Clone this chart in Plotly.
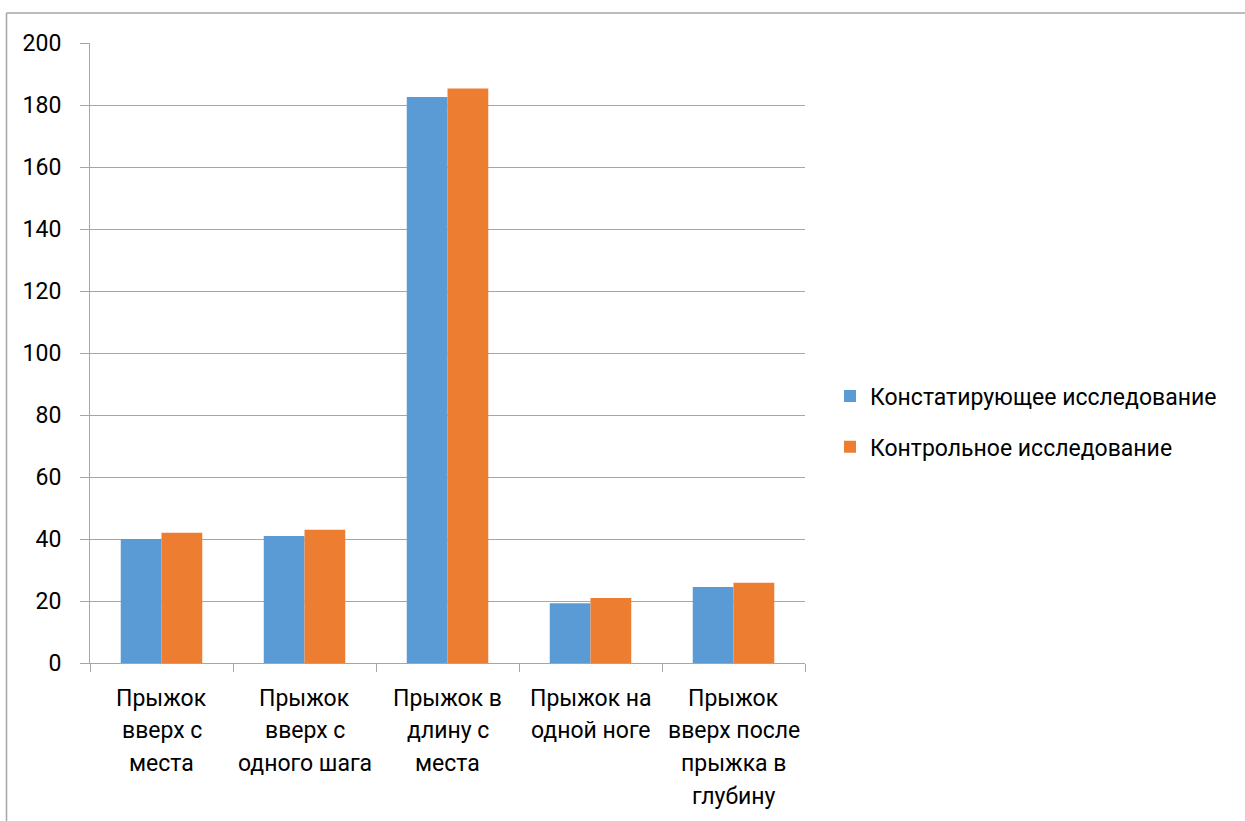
import plotly.graph_objects as go

categories = [
    "Прыжок<br>вверх с<br>места",
    "Прыжок<br>вверх с<br>одного шага",
    "Прыжок в<br>длину с<br>места",
    "Прыжок на<br>одной ноге",
    "Прыжок<br>вверх после<br>прыжка в<br>глубину",
]
series_names = ["Констатирующее исследование", "Контрольное исследование"]
ascertaining = [40, 41, 182.6, 19.3, 24.5]
control = [42, 43, 185.3, 21, 25.9]
y_ticks = [0, 20, 40, 60, 80, 100, 120, 140, 160, 180, 200]

colors = ["#5B9BD5", "#ED7D31"]
FONT = "Roboto"
FS = 23
W, H = 1245, 821
L, R, T, B = 90, 440, 43, 158
pw, ph = W - L - R, H - T - B

fig = go.Figure()
for i, (name, vals) in enumerate(zip(series_names, [ascertaining, control])):
    fig.add_trace(go.Bar(
        x=categories, y=vals, name=name, legendgroup=str(i),
        marker=dict(color=colors[i], line=dict(width=0)),
    ))

annotations = []
for c in categories:
    for j, line in enumerate(c.split("<br>")):
        annotations.append(dict(
            x=c, y=0, xref="x", yref="y", text=line, showarrow=False,
            yanchor="middle", xanchor="center", yshift=-35 - 32.8 * j,
            font=dict(family=FONT, size=FS, color="#000000"),
        ))

gray = "#a6a6a6"
xl = (6.5 - L) / pw
yt = (H - B - 13) / ph
shapes = [
    dict(type="line", xref="paper", yref="paper", x0=xl, x1=xl, y0=-1, y1=yt,
         line=dict(color=gray, width=1.5)),
    dict(type="line", xref="paper", yref="paper", x0=xl, x1=(W - L) / pw, y0=yt, y1=yt,
         line=dict(color=gray, width=1.5)),
]

fig.update_layout(
    width=W, height=H,
    margin=dict(l=L, r=R, t=T, b=B, autoexpand=False),
    paper_bgcolor="white", plot_bgcolor="white",
    barmode="group", bargap=0.43, bargroupgap=0,
    font=dict(family=FONT, size=FS, color="#000000"),
    legend=dict(x=(830 - L) / pw, y=(H - B - 421.5) / ph, xanchor="left", yanchor="middle",
                font=dict(family=FONT, size=FS), tracegroupgap=18, traceorder="grouped",
                bgcolor="rgba(0,0,0,0)"),
    annotations=annotations,
    shapes=shapes,
    xaxis=dict(showticklabels=False, tickson="boundaries", ticks="outside", ticklen=8,
               tickcolor=gray, showline=True, linecolor=gray, linewidth=1, showgrid=False),
    yaxis=dict(range=[0, 200], tickvals=y_ticks, ticks="outside", ticklen=9, tickcolor=gray,
               showline=True, linecolor=gray, linewidth=1, showgrid=True, gridcolor=gray,
               gridwidth=1, zeroline=False, ticklabelstandoff=14,
               tickfont=dict(family=FONT, size=FS)),
)

fig.write_html("out.html")
